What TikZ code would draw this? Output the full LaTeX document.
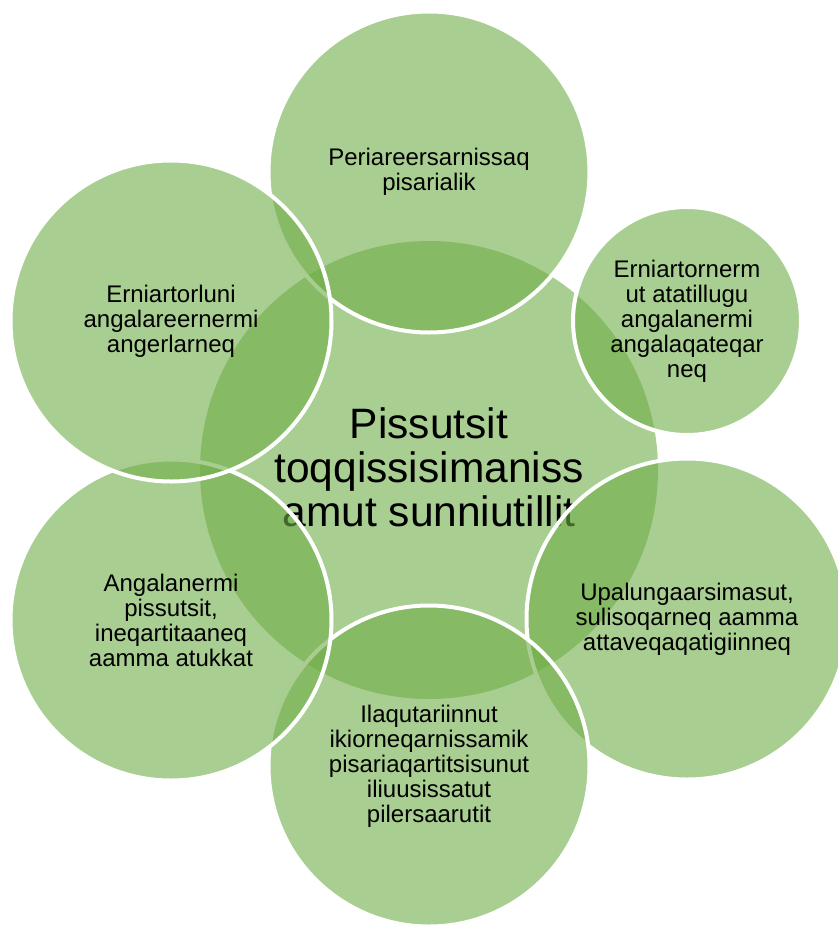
\documentclass[tikz,border=0pt]{standalone}
\usepackage{fontspec}
\setmainfont{Liberation Sans}
\definecolor{gfill}{HTML}{70AD47}
\begin{document}
\begin{tikzpicture}[x=1pt,y=-1pt,
  bub/.style={circle, fill=gfill, fill opacity=0.6, text opacity=1,
    draw=white, draw opacity=1, line width=4pt, minimum size=#1,
    inner sep=0pt, align=center, font=\fontsize{24}{25}\selectfont},
  hub/.style={circle, fill=gfill, fill opacity=0.6, text opacity=1,
    draw=none, minimum size=#1, inner sep=0pt, align=center,
    font=\fontsize{42.5}{44}\selectfont}]
\useasboundingbox (0,0) rectangle (838,927);
\clip (0,0) rectangle (838,927);
\node[hub=458] (c) at (429,470) {};
\node (ct) at (429,467) [align=center, font=\fontsize{42.5}{44}\selectfont, inner sep=0pt] {Pissutsit\\toqqissisimaniss\\amut sunniutillit};
\node[bub=321] (n1) at (429,172) {Periareersarnissaq\\pisarialik};
\node[bub=228] (n2) at (687,321) {Erniartornerm\\ut atatillugu\\angalanermi\\angalaqateqar\\neq};
\node[bub=321] (n3) at (687,619) {Upalungaarsimasut,\\sulisoqarneq aamma\\attaveqaqatigiinneq};
\node[bub=321] (n4) at (429,766) {Ilaqutariinnut\\ikiorneqarnissamik\\pisariaqartitsisunut\\iliuusissatut\\pilersaarutit};
\node[bub=321] (n5) at (171,620) {Angalanermi\\pissutsit,\\ineqartitaaneq\\aamma atukkat};
\node[bub=321] (n6) at (171,321) {Erniartorluni\\angalareernermi\\angerlarneq};
\end{tikzpicture}
\end{document}
